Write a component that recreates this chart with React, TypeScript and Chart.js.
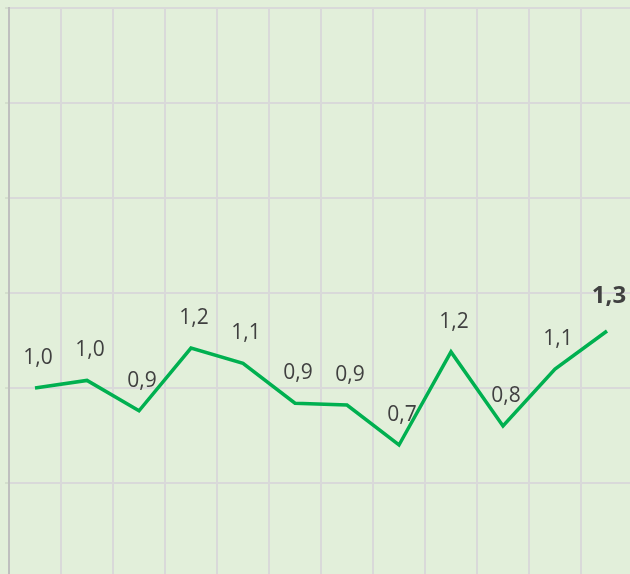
import React, { useEffect, useRef } from "react";
import { Chart, registerables } from "chart.js";

Chart.register(...registerables);

const categories = ["1", "2", "3", "4", "5", "6", "7", "8", "9", "10", "11", "12"];
const values = [1.0, 1.04, 0.88, 1.21, 1.13, 0.92, 0.91, 0.7, 1.19, 0.8, 1.1, 1.3];
const yMin = 0;
const yMax = 3;
const yStep = 0.5;

const BG = "#e2efda";
const GRID = "#d9d9d9";

const labelPlugin = {
  id: "pointValueLabels",
  afterDatasetsDraw(chart: any) {
    const ctx = chart.ctx;
    const meta = chart.getDatasetMeta(0);
    meta.data.forEach((pt: any, i: number) => {
      const last = i === values.length - 1;
      ctx.save();
      ctx.font = last ? 'bold 24px "Open Sans"' : '21px "Open Sans"';
      ctx.fillStyle = "#404040";
      ctx.textAlign = "center";
      ctx.textBaseline = "alphabetic";
      const txt = values[i].toFixed(1).replace(".", ",");
      ctx.fillText(txt, pt.x + (last ? 2 : 3), pt.y - (last ? 28 : 24));
      ctx.restore();
    });
  },
};

export default function App() {
  const ref = useRef<HTMLCanvasElement | null>(null);

  useEffect(() => {
    if (!ref.current) return;
    const chart = new Chart(ref.current, {
      type: "line",
      data: {
        labels: categories,
        datasets: [
          {
            data: values,
            borderColor: "#00b050",
            borderWidth: 3.5,
            pointRadius: 0,
            tension: 0,
            fill: false,
          },
        ],
      },
      options: {
        responsive: false,
        animation: false,
        devicePixelRatio: 1,
        layout: { padding: { left: 0, top: 8, right: 17, bottom: 12 } },
        plugins: {
          legend: { display: false },
          tooltip: { enabled: false },
          title: { display: false },
        },
        scales: {
          x: {
            type: "category",
            offset: true,
            grid: {
              offset: true,
              color: GRID,
              lineWidth: 2,
              drawTicks: false,
            },
            border: { display: true, color: "#bfbfbf", width: 2 },
            ticks: { display: false },
            afterFit: (scale: any) => {
              scale.height = 0;
            },
          },
          y: {
            min: yMin,
            max: yMax,
            ticks: { display: false, stepSize: yStep },
            grid: {
              color: GRID,
              lineWidth: 2,
              drawTicks: true,
              tickLength: 4,
              tickColor: "#c6cfc0",
              tickWidth: 1,
            },
            border: { display: true, color: "#bfbfbf", width: 2 },
            afterFit: (scale: any) => {
              scale.width = 9;
            },
          },
        },
      },
      plugins: [labelPlugin],
    });
    return () => chart.destroy();
  }, []);

  return (
    <div
      style={{
        position: "fixed",
        left: 0,
        top: 0,
        width: 630,
        height: 574,
        overflow: "hidden",
        background: BG,
      }}
    >
      <canvas ref={ref} width={650} height={590} style={{ display: "block" }} />
    </div>
  );
}
